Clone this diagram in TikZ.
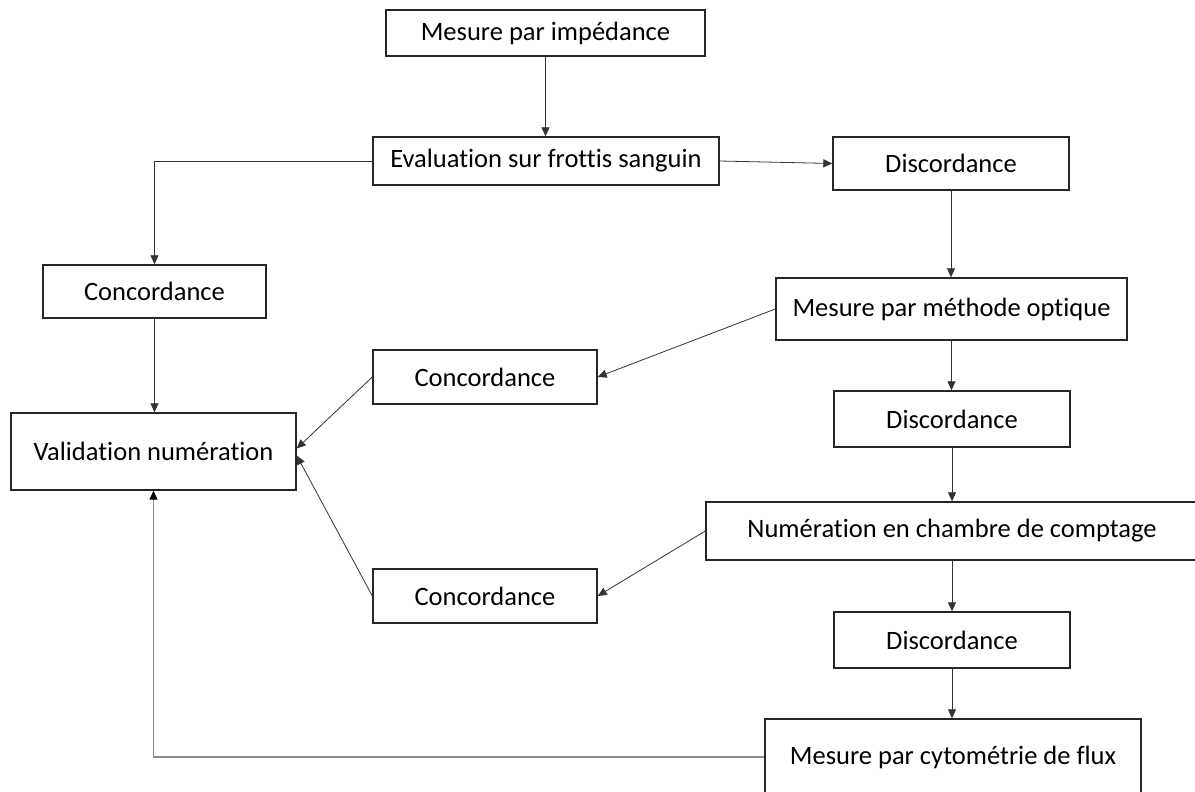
\documentclass[tikz,border=0pt]{standalone}
\usepackage{fontspec}
\setmainfont{Carlito}[RawFeature={-liga;-clig;-dlig;-calt}]
\usetikzlibrary{arrows.meta,calc}
\begin{document}
\begin{tikzpicture}[x=1pt,y=-1pt,
  box/.style={draw=black!85, line width=1.4pt, fill=white, inner sep=0pt,
    font=\fontsize{26.5}{30}\selectfont, text=black},
  conn/.style={draw=black!80, line width=0.8pt, -{Triangle[length=9pt,width=8pt]}},
  connlight/.style={draw=black!45, line width=1.2pt, -{Triangle[length=9pt,width=8pt,color=black]}}]
\useasboundingbox[fill=white] (0,0) rectangle (1195,792);

\node[box, minimum width=319pt, minimum height=46pt] (b1) at (545.5,33) {Mesure par impédance};
\node[box, minimum width=346pt, minimum height=48pt] (ev) at (546,161) {Evaluation sur frottis sanguin};
\node[box, minimum width=236pt, minimum height=53pt] (d1) at (951,163.5) {Discordance};
\node[box, minimum width=223pt, minimum height=53pt] (c1) at (154.5,291.5) {Concordance};
\node[box, minimum width=351pt, minimum height=62pt] (mo) at (951.5,309) {Mesure par méthode optique};
\node[box, minimum width=224pt, minimum height=54pt] (c2) at (485,377) {Concordance};
\node[box, minimum width=236pt, minimum height=56pt] (d2) at (952,419) {Discordance};
\node[box, minimum width=285pt, minimum height=77pt] (val) at (153.5,451.5) {Validation numération};
\node[box, minimum width=492pt, minimum height=58pt] (num) at (952,531) {Numération en chambre de comptage};
\node[box, minimum width=224pt, minimum height=54pt] (c3) at (485,596) {Concordance};
\node[box, minimum width=236pt, minimum height=56pt] (d3) at (952,640) {Discordance};
\node[box, minimum width=376pt, minimum height=76pt] (cyt) at (953,757) {Mesure par cytométrie de flux};

\coordinate (vup) at ($(val.east)+(0,-3)$);
\coordinate (vlo) at ($(val.east)+(0,4)$);

\draw[conn] (b1.south) -- (b1.south |- ev.north);
\draw[conn] (ev.west) -| (c1.north);
\draw[conn] (ev.east) -- (d1.west);
\draw[conn] (d1.south) -- (d1.south |- mo.north);
\draw[conn] (mo.west) -- (c2.east);
\draw[conn] (mo.south) -- (mo.south |- d2.north);
\draw[conn] (c1.south) -- (c1.south |- val.north);
\draw[conn] (c2.west) -- (vup);
\draw[conn] (d2.south) -- (d2.south |- num.north);
\draw[conn] (num.west) -- (c3.east);
\draw[conn] (c3.west) -- (vlo);
\draw[conn] (d3.north |- num.south) -- (d3.north);
\draw[conn] (d3.south) -- (d3.south |- cyt.north);
\draw[connlight] (cyt.west) -| (val.south);
\end{tikzpicture}
\end{document}
